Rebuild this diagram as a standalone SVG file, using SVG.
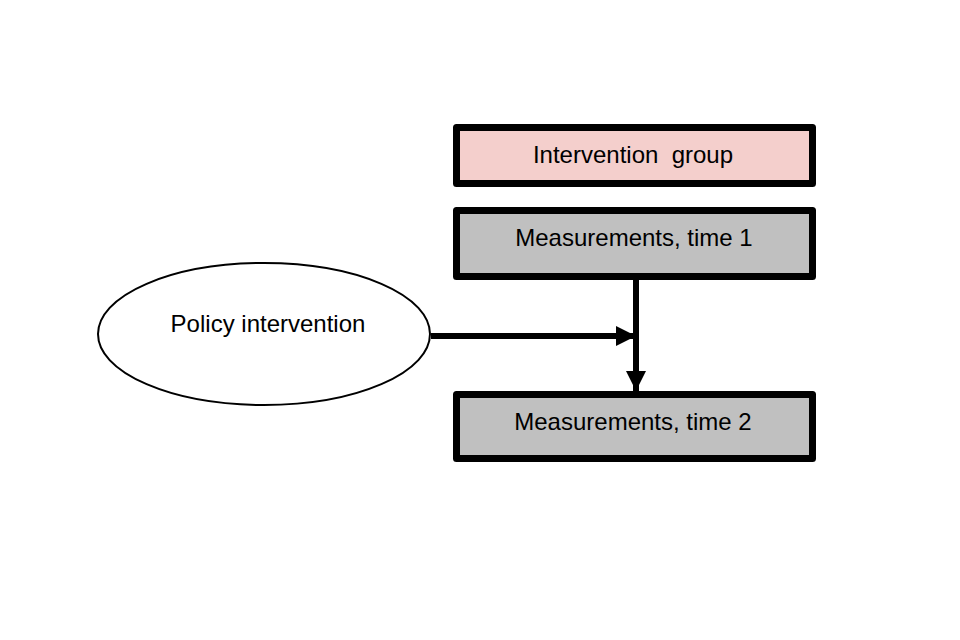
<svg xmlns="http://www.w3.org/2000/svg" width="960" height="640" viewBox="0 0 960 640">
<style>
.box{stroke:#000;stroke-width:7;stroke-linejoin:round}
.lbl{font-family:"Liberation Sans","DejaVu Sans",sans-serif;font-size:24px;fill:#000;text-anchor:middle}
.conn{stroke:#000;stroke-width:6;fill:none}
</style>
<defs>
<marker id="ah" viewBox="0 0 10 10" refX="10" refY="5" markerWidth="3.4" markerHeight="3.4" orient="auto" markerUnits="strokeWidth">
<path d="M0,0 L10,5 L0,10 z" fill="#000"/>
</marker>
</defs>
<rect width="960" height="640" fill="#fff"/>
<g id="intervention-group">
<rect class="box" x="456.5" y="127.5" width="356" height="56" fill="#f4cfcc"/>
<text class="lbl" x="633" y="163" xml:space="preserve">Intervention  group</text>
</g>
<g id="measurements-time1">
<rect class="box" x="456.5" y="210.5" width="356" height="66" fill="#c0c0c0"/>
<text class="lbl" x="634" y="246">Measurements, time 1</text>
</g>
<g id="measurements-time2">
<rect class="box" x="456.5" y="394.5" width="356" height="64" fill="#c0c0c0"/>
<text class="lbl" x="633" y="430">Measurements, time 2</text>
</g>
<g id="policy-intervention">
<ellipse cx="264" cy="334" rx="166" ry="71" fill="#fff" stroke="#000" stroke-width="2"/>
<text class="lbl" x="268" y="332">Policy intervention</text>
</g>
<g id="connectors">
<line class="conn" x1="431" y1="336" x2="636" y2="336" marker-end="url(#ah)"/>
<line class="conn" x1="636" y1="280" x2="636" y2="391" marker-end="url(#ah)"/>
</g>
</svg>
